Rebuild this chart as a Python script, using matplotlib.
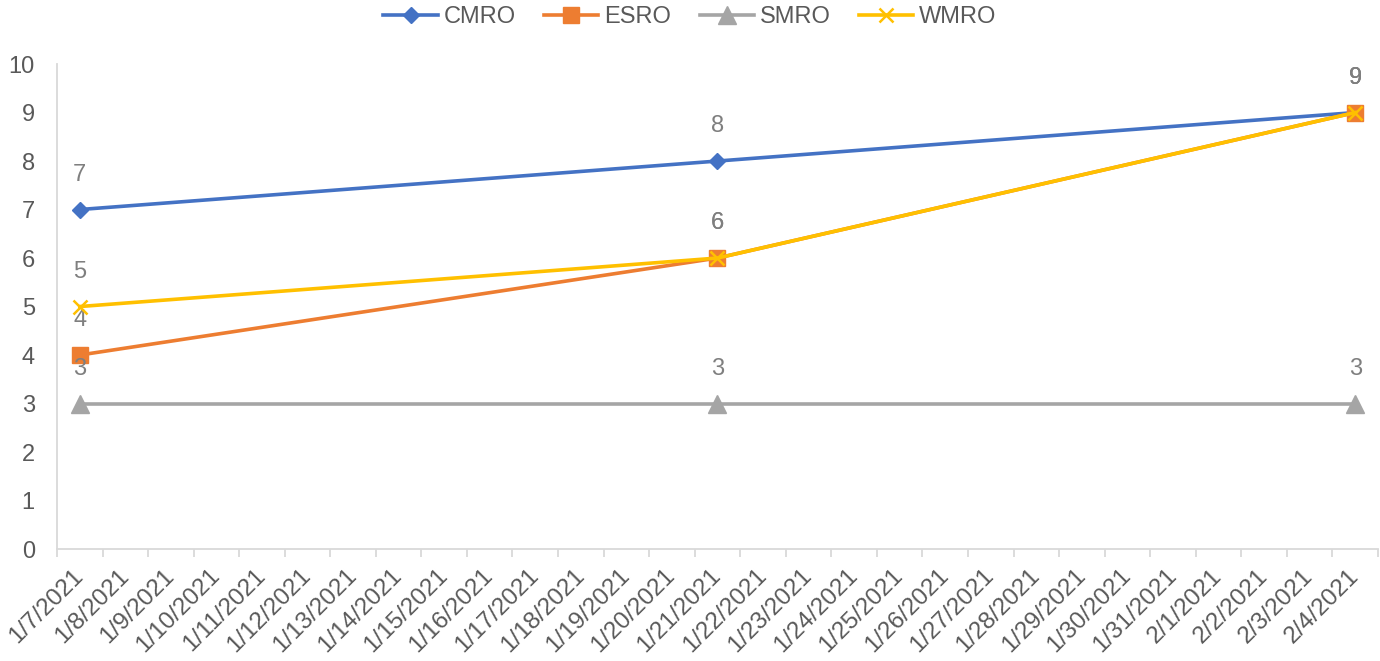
import numpy as np
import pandas as pd
import matplotlib
matplotlib.use("Agg")
import matplotlib.pyplot as plt

plt.rcParams['font.family'] = ['Liberation Sans', 'DejaVu Sans']

# --- data ---
days = pd.date_range("2021-01-07", "2021-02-04", freq="D")
day_labels = [f"{d.month}/{d.day}/{d.year}" for d in days]

point_dates = ["2021-01-07", "2021-01-21", "2021-02-04"]
cmro = [7, 8, 9]
esro = [4, 6, 9]
smro = [3, 3, 3]
wmro = [5, 6, 9]

series = [
    ("CMRO", cmro, "#4472C4", "D", 8.3),
    ("ESRO", esro, "#ED7D31", "s", 12),
    ("SMRO", smro, "#A5A5A5", "^", 13),
    ("WMRO", wmro, "#FFC000", "x", 10),
]

x_pts = [(pd.Timestamp(d) - days[0]).days for d in point_dates]

fig = plt.figure(figsize=(13.8, 6.61), dpi=100)
ax = fig.add_axes([0.0413, 0.1694, 0.9572, 0.7337])

for name, vals, col, mk, ms in series:
    ax.plot(x_pts, vals, color=col, lw=2.6, marker=mk, markersize=ms,
            markeredgewidth=1.8 if mk == "x" else 1, label=name, zorder=3)
    for xp, v in zip(x_pts, vals):
        ax.annotate(str(v), (xp, v), xytext=(0, 17), textcoords="offset points",
                    ha="center", va="bottom", fontsize=17, color="#7F7F7F")

ax.set_xlim(-0.5, len(days) - 0.5)
ax.set_ylim(0, 10)
ax.set_yticks(range(0, 11))
ax.tick_params(axis="y", length=0, labelsize=17, labelcolor="#595959", pad=16)

ax.set_xticks(np.arange(-0.5, len(days), 1.0))
ax.set_xticklabels([])
ax.tick_params(axis="x", which="major", length=6, color="#D9D9D9", width=1.3)
ax.set_xticks(np.arange(len(days)), minor=True)
ax.set_xticklabels(day_labels, minor=True, rotation=45, ha="right",
                   va="center", rotation_mode="anchor")
ax.tick_params(axis="x", which="minor", length=0, labelsize=17.5,
               labelcolor="#595959", pad=17)

for s in ["top", "right"]:
    ax.spines[s].set_visible(False)
for s in ["left", "bottom"]:
    ax.spines[s].set_color("#D9D9D9")
    ax.spines[s].set_linewidth(1.3)

ax.legend(loc="center", bbox_to_anchor=(0.5, 0.974), bbox_transform=fig.transFigure,
          ncol=4, frameon=False, fontsize=17, labelcolor="#595959",
          handlelength=2.3, columnspacing=1.2, handletextpad=0.25)

fig.savefig("out.png", dpi=100)
